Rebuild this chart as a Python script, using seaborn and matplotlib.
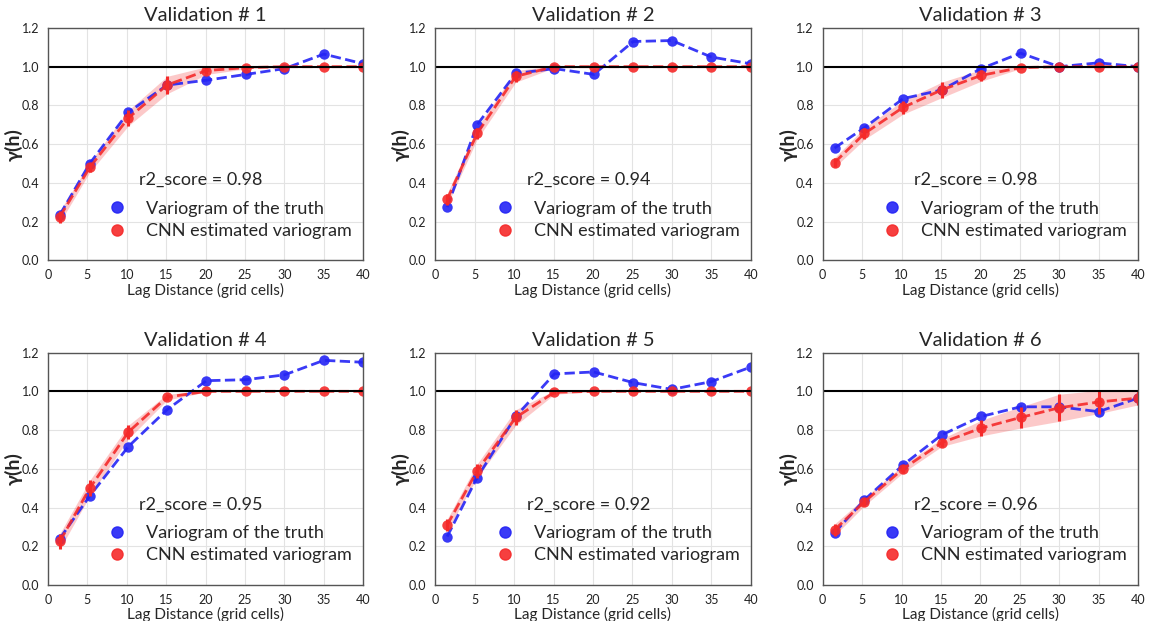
import numpy as np
import pandas as pd
import seaborn as sns
import matplotlib.pyplot as plt
from matplotlib.lines import Line2D

# lag distances (grid cells) where the variograms are evaluated
lags = [1.5, 5.3, 10.2, 15.1, 20.1, 25.1, 30.0, 35.0, 40.0]

truth_1 = [0.235, 0.50, 0.765, 0.905, 0.93, 0.96, 0.99, 1.065, 1.015]
cnn_1 = [0.225, 0.48, 0.735, 0.905, 0.98, 0.995, 1.0, 1.0, 1.0]
spread_1 = [0.03, 0.025, 0.04, 0.045, 0.02, 0.006, 0.002, 0.0, 0.0]

truth_2 = [0.275, 0.70, 0.965, 0.99, 0.96, 1.13, 1.135, 1.05, 1.015]
cnn_2 = [0.315, 0.655, 0.95, 1.0, 1.0, 1.0, 1.0, 1.0, 1.0]
spread_2 = [0.03, 0.03, 0.03, 0.005, 0.0, 0.0, 0.0, 0.0, 0.0]

truth_3 = [0.58, 0.685, 0.835, 0.88, 0.99, 1.07, 1.0, 1.02, 1.0]
cnn_3 = [0.505, 0.655, 0.79, 0.88, 0.955, 0.995, 1.0, 1.0, 1.0]
spread_3 = [0.025, 0.03, 0.035, 0.04, 0.03, 0.005, 0.0, 0.0, 0.0]

truth_4 = [0.24, 0.46, 0.715, 0.905, 1.055, 1.06, 1.085, 1.16, 1.15]
cnn_4 = [0.225, 0.50, 0.79, 0.97, 1.0, 1.0, 1.0, 1.0, 1.0]
spread_4 = [0.04, 0.04, 0.035, 0.015, 0.003, 0.0, 0.0, 0.0, 0.0]

truth_5 = [0.25, 0.555, 0.87, 1.09, 1.10, 1.045, 1.01, 1.05, 1.125]
cnn_5 = [0.31, 0.59, 0.865, 0.995, 1.0, 1.0, 1.0, 1.0, 1.0]
spread_5 = [0.03, 0.035, 0.04, 0.01, 0.002, 0.0, 0.0, 0.0, 0.0]

truth_6 = [0.27, 0.44, 0.62, 0.775, 0.87, 0.92, 0.92, 0.895, 0.965]
cnn_6 = [0.285, 0.43, 0.60, 0.735, 0.81, 0.865, 0.915, 0.945, 0.965]
spread_6 = [0.03, 0.02, 0.02, 0.02, 0.04, 0.055, 0.07, 0.06, 0.035]

r2_scores = [0.98, 0.94, 0.98, 0.95, 0.92, 0.96]
truths = [truth_1, truth_2, truth_3, truth_4, truth_5, truth_6]
cnns = [cnn_1, cnn_2, cnn_3, cnn_4, cnn_5, cnn_6]
spreads = [spread_1, spread_2, spread_3, spread_4, spread_5, spread_6]

BLUE = "#2424f5"
RED = "#f52a2a"

sns.set_style("whitegrid", {"grid.color": "#e3e3e3", "axes.edgecolor": "#555555"})
plt.rcParams["font.family"] = ["Lato", "DejaVu Sans"]

fig, axes = plt.subplots(2, 3, figsize=(11.51, 6.21), dpi=100)
fig.subplots_adjust(left=0.0417, right=0.9887, top=0.955, bottom=0.058, wspace=0.2286, hspace=0.397)

for i, ax in enumerate(axes.flat):
    df = pd.DataFrame({"lag": lags, "truth": truths[i], "cnn": cnns[i], "spread": spreads[i]})
    lo = df["cnn"] - df["spread"]
    hi = df["cnn"] + df["spread"]

    ax.fill_between(df["lag"], lo, hi, color=RED, alpha=0.25, linewidth=0)
    sns.lineplot(data=df, x="lag", y="truth", ax=ax, color=BLUE, linestyle="--", linewidth=2,
                 marker="o", markersize=7.5, markeredgewidth=0, alpha=0.9)
    sns.lineplot(data=df, x="lag", y="cnn", ax=ax, color=RED, linestyle="--", linewidth=2,
                 marker="o", markersize=7.5, markeredgewidth=0, alpha=0.9)
    ax.errorbar(df["lag"], df["cnn"], yerr=df["spread"], fmt="none", ecolor=RED, elinewidth=2.2, capsize=0)
    ax.axhline(1.0, color="black", linewidth=1.5)

    ax.set_xlim(0, 40)
    ax.set_ylim(0, 1.2)
    ax.set_xticks(np.arange(0, 41, 5))
    ax.set_yticks(np.arange(0, 1.21, 0.2))
    ax.set_yticklabels([f"{v:.1f}" for v in np.arange(0, 1.21, 0.2)])
    ax.tick_params(labelsize=9, pad=3, colors="#222222")
    ax.set_title(f"Validation # {i + 1}", fontsize=14.5, pad=5)
    ax.set_xlabel("Lag Distance (grid cells)", fontsize=11, labelpad=1)
    ax.set_ylabel("γ(h)", fontsize=14, fontweight="bold")
    ax.yaxis.set_label_coords(-0.08, 0.5)
    for s in ax.spines.values():
        s.set_linewidth(1.0)

    ax.text(0.29, 0.345, f"r2_score = {r2_scores[i]:.2f}", transform=ax.transAxes,
            fontsize=13, va="center", ha="left")
    handles = [Line2D([], [], linestyle="none", marker="o", markersize=8, color=BLUE, alpha=0.9),
               Line2D([], [], linestyle="none", marker="o", markersize=8, color=RED, alpha=0.9)]
    ax.legend(handles, ["Variogram of the truth", "CNN estimated variogram"], loc="center left",
              bbox_to_anchor=(0.14, 0.175), frameon=False, fontsize=13, handletextpad=0.6,
              labelspacing=0.35, borderaxespad=0)

fig.savefig("out.png", dpi=100)
